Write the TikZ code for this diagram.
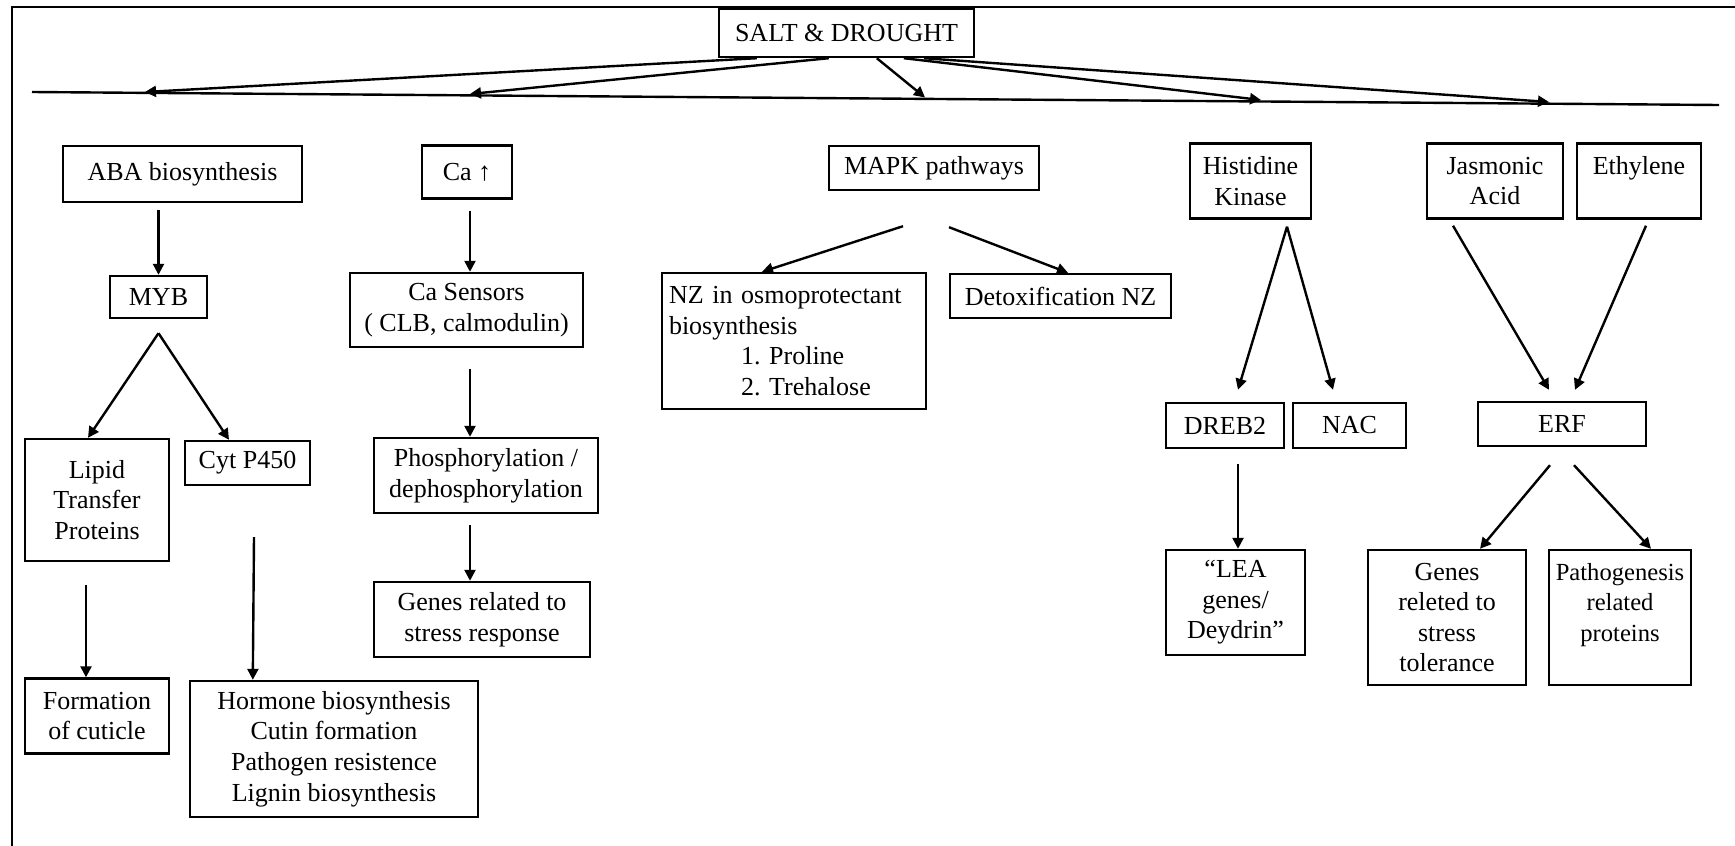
\documentclass[tikz,border=0pt]{standalone}
\usepackage{fontspec}
\setmainfont{Liberation Serif}
\usetikzlibrary{arrows.meta,calc}
\begin{document}
\frenchspacing
\begin{tikzpicture}[x=0.5pt,y=-0.5pt,
  bx/.style={draw,line width=1.2pt,inner sep=0pt,align=center,font=\fontsize{13}{15.3}\selectfont},
  arr/.style={line width=1.2pt,-{Triangle[length=5.5pt,width=5.5pt]}},
  ln/.style={line width=1.2pt}]
\useasboundingbox (0,0) rectangle (1735,846);
% frame
\draw[ln] (12,846) -- (12,7) -- (1735,7);
% top
\node[bx,minimum width=127.5pt,minimum height=24pt] (salt) at (846.5,33) {SALT \& DROUGHT};
% bus line
\coordinate (b0) at (32,92);
\coordinate (b6) at (1719,105);
\draw[ln] (b0) -- (b6);
\coordinate (t1) at (145,92);
\coordinate (t2) at (470,94);
\coordinate (t3) at (925,97.5);
\coordinate (t4) at (1261,100);
\coordinate (t5) at (1549,102);
\draw[arr] ($(salt.south west)+(39,0)$) -- (t1);
\draw[arr] ($(salt.south west)+(111,0)$) -- (t2);
\draw[arr] ($(salt.south west)+(159,0)$) -- (t3);
\draw[arr] ($(salt.south west)+(186,0)$) -- (t4);
\draw[arr] ($(salt.south west)+(206,0)$) -- (t5);
% first row
\node[bx,minimum width=119.5pt,minimum height=28pt] (aba) at (182.5,174) {ABA biosynthesis};
\node[bx,minimum width=45pt,minimum height=26.5pt] (ca) at (467,172) {Ca ↑};
\node[bx,minimum width=105pt,minimum height=22pt] (mapk) at (934,168) {MAPK pathways};
\node[bx,minimum width=60.5pt,minimum height=37.5pt] (hist) at (1250.5,181) {Histidine\\Kinase};
\node[bx,minimum width=68pt,minimum height=37.5pt] (jas) at (1495,181) {Jasmonic\\Acid};
\node[bx,minimum width=62pt,minimum height=37.5pt] (eth) at (1639,181) {Ethylene\\~};
% ABA branch
\node[bx,minimum width=48.5pt,minimum height=21pt] (myb) at (158.5,297) {MYB};
\node[bx,minimum width=72pt,minimum height=61pt] (lipid) at (97,500) {Lipid\\Transfer\\Proteins};
\node[bx,minimum width=62.5pt,minimum height=22pt] (cyt) at (247.5,463) {Cyt P450};
\node[bx,minimum width=72pt,minimum height=37.5pt] (form) at (97,716) {Formation\\of cuticle};
\node[bx,minimum width=144pt,minimum height=68pt] (horm) at (334,749) {Hormone biosynthesis\\Cutin formation\\Pathogen resistence\\Lignin biosynthesis};
% Ca branch
\node[bx,minimum width=116.5pt,minimum height=37pt] (casens) at (466.5,310) {Ca Sensors\\( CLB, calmodulin)};
\node[bx,minimum width=112pt,minimum height=37.5pt] (phos) at (486,475.5) {Phosphorylation /\\dephosphorylation};
\node[bx,minimum width=108pt,minimum height=37.5pt] (genes) at (482,619.5) {Genes related to\\stress response};
% MAPK branch
\node[bx,align=left,text width=125pt,inner xsep=3.5pt,minimum height=68pt] (nz) at (794,341) {NZ in osmoprotectant\\biosynthesis\\\hspace*{36pt}1. Proline\\\hspace*{36pt}2. Trehalose};
\node[bx,minimum width=110.5pt,minimum height=22pt] (detox) at (1060.5,296) {Detoxification NZ};
% Histidine branch
\node[bx,minimum width=59pt,minimum height=22.5pt] (dreb) at (1225,425.5) {DREB2};
\node[bx,minimum width=56.5pt,minimum height=22.5pt] (nac) at (1349.5,425.5) {NAC};
\node[bx,minimum width=69.5pt,minimum height=52.5pt] (lea) at (1235.5,602.5) {“LEA\\genes/\\Deydrin”};
% JA / ethylene branch
\node[bx,minimum width=84pt,minimum height=22pt] (erf) at (1562,424) {ERF};
\node[bx,minimum width=79pt,minimum height=67.5pt] (grel) at (1447,617.5) {Genes\\releted to\\stress\\tolerance};
\node[bx,minimum width=71pt,minimum height=67.5pt,font=\fontsize{12.3}{15.3}\selectfont] (path) at (1620,617.5) {Pathogenesis\\related\\proteins\\~};
% ABA arrows
\draw[arr] ($(myb.north |- aba.south)+(0,7)$) -- (myb.north);
\coordinate (mf) at ($(myb.south)+(0,14)$);
\draw[arr] (mf) -- ($(lipid.north)+(-9,0)$);
\draw[arr] (mf) -- ($(cyt.north)+(-18.5,0)$);
\draw[arr] ($(lipid.south)+(-11,23)$) -- ($(form.north)+(-11,0)$);
\draw[arr] ($(cyt.south)+(6.5,51)$) -- ($(horm.north west)+(64,0)$);
% Ca arrows
\draw[arr] ($(ca.south)+(3,11)$) -- ($(casens.north)+(3.5,0)$);
\draw[arr] ($(casens.south)+(3.5,21)$) -- ($(phos.north)+(-16,0)$);
\draw[arr] ($(phos.south)+(-16,11)$) -- ($(genes.north)+(-12,0)$);
% MAPK arrows
\draw[arr] ($(mapk.south)+(-31,35)$) -- ($(nz.north)+(-32,0)$);
\draw[arr] ($(mapk.south)+(15,36)$) -- ($(detox.north)+(7.5,0)$);
% Histidine arrows
\coordinate (hf) at ($(hist.south)+(36.5,7)$);
\draw[arr] (hf) -- ($(dreb.north)+(13,-12)$);
\draw[arr] (hf) -- ($(nac.north)+(-16.5,-12)$);
\draw[arr] ($(dreb.south)+(13,15)$) -- ($(lea.north)+(2.5,0)$);
% JA / ethylene arrows
\draw[arr] ($(jas.south)+(-42,6)$) -- ($(erf.north)+(-13,-11)$);
\draw[arr] ($(eth.south)+(7,6)$) -- ($(erf.north)+(13,-11)$);
\draw[arr] ($(erf.south)+(-12,18)$) -- ($(grel.north)+(33,0)$);
\draw[arr] ($(erf.south)+(12,18)$) -- ($(path.north)+(31,0)$);
\end{tikzpicture}
\end{document}
